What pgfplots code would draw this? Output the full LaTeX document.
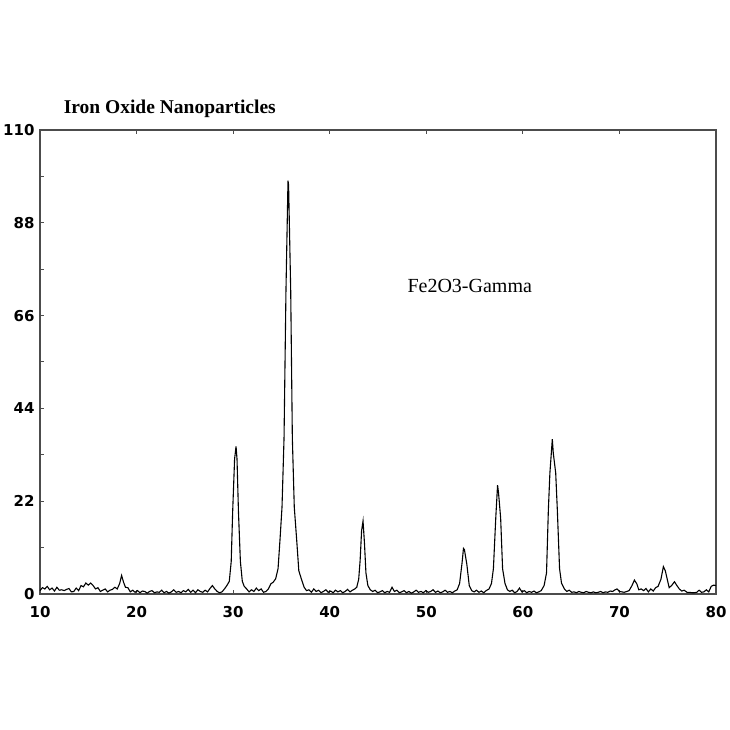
\documentclass[border=0pt]{standalone}
\usepackage{pgfplots}
\pgfplotsset{compat=1.18}
\usepackage{fontspec}
\setmainfont{Liberation Serif}
\newfontfamily\tickfont{DejaVu Sans}

% XRD pattern (2-theta, intensity)
\pgfplotstableread{
x y
10.0 0.8
10.25 1.5
10.5 1.2
10.75 1.8
11.0 1.0
11.25 1.4
11.5 0.7
11.75 1.6
12.0 0.9
12.25 1.0
12.5 0.8
12.75 1.1
13.0 1.3
13.25 0.5
13.5 0.6
13.75 1.4
14.0 0.8
14.25 2.0
14.5 1.7
14.75 2.6
15.0 2.1
15.25 2.6
15.5 2.0
15.75 1.2
16.0 1.5
16.25 0.6
16.5 0.9
16.75 1.2
17.0 0.5
17.25 0.9
17.5 1.1
17.75 1.6
18.0 1.2
18.25 2.5
18.45 4.4
18.65 2.8
18.85 1.6
19.1 1.5
19.35 0.5
19.6 0.9
19.85 0.4
20.1 0.8
20.35 0.3
20.6 0.7
20.85 0.6
21.1 0.2
21.35 0.6
21.6 0.8
21.85 0.3
22.1 0.5
22.35 0.4
22.6 0.9
22.85 0.3
23.1 0.6
23.35 0.2
23.6 0.5
23.85 1.0
24.1 0.4
24.35 0.6
24.6 0.3
24.85 0.8
25.1 0.5
25.35 1.1
25.6 0.4
25.85 0.9
26.1 0.3
26.35 1.0
26.6 0.6
26.85 0.4
27.1 0.9
27.35 0.5
27.6 1.3
27.85 2.0
28.1 1.2
28.35 0.6
28.6 0.3
28.85 0.5
29.1 1.2
29.35 2.0
29.6 3.0
29.8 7.7
29.95 19.5
30.15 32
30.3 35
30.4 32
30.55 19.5
30.75 7.7
30.95 3.0
31.15 1.8
31.4 1.2
31.65 0.5
31.9 1.0
32.15 0.6
32.4 1.4
32.65 0.8
32.9 1.2
33.15 0.4
33.4 0.6
33.65 1.2
33.9 2.4
34.15 2.8
34.4 3.6
34.65 6.0
34.85 12.8
35.06 20.6
35.27 37
35.47 72
35.68 98
35.74 97
35.96 72
36.13 37
36.33 20.6
36.58 12.8
36.8 5.5
37.1 3.3
37.35 1.6
37.6 0.8
37.85 1.0
38.1 0.4
38.35 1.2
38.6 0.6
38.85 0.9
39.1 0.3
39.35 0.6
39.6 1.0
39.85 0.4
40.1 0.7
40.35 0.3
40.6 0.9
40.85 0.5
41.1 0.8
41.35 0.3
41.6 0.6
41.85 1.1
42.1 0.5
42.35 0.9
42.6 1.2
42.8 1.6
43.0 3.5
43.15 8.0
43.3 15.0
43.45 17.3
43.6 12.0
43.75 5.0
43.95 2.0
44.2 1.0
44.45 0.6
44.7 0.9
44.95 0.3
45.2 0.5
45.45 0.8
45.7 0.3
45.95 0.6
46.2 0.4
46.45 1.6
46.7 0.6
46.95 0.9
47.2 0.3
47.45 0.5
47.7 0.8
47.95 0.3
48.2 0.6
48.45 0.2
48.7 0.5
48.95 0.9
49.2 0.4
49.45 0.6
49.7 0.3
49.95 0.8
50.2 0.4
50.45 0.6
50.7 1.0
50.95 0.4
51.2 0.7
51.45 0.3
51.7 0.5
51.95 0.9
52.2 0.4
52.45 0.6
52.7 0.3
52.95 0.7
53.2 1.0
53.45 2.5
53.7 7.3
53.85 10.8
53.95 10.5
54.2 7.0
54.45 2.0
54.7 0.8
54.95 0.5
55.2 0.9
55.45 0.4
55.7 0.7
55.95 0.3
56.2 0.8
56.5 1.2
56.75 2.5
56.95 6.0
57.2 18.3
57.38 25.8
57.48 24.0
57.7 18.0
57.9 6.0
58.15 2.5
58.4 1.0
58.65 0.6
58.9 0.9
59.15 0.3
59.4 0.6
59.65 1.4
59.9 0.5
60.15 0.8
60.4 0.3
60.65 0.6
60.9 0.4
61.15 0.7
61.4 0.3
61.65 0.5
61.9 0.8
62.2 2.0
62.45 5.0
62.64 19.9
62.8 28.7
63.05 36.7
63.15 33.4
63.4 28.7
63.57 19.9
63.8 6.0
64.0 2.6
64.3 1.2
64.55 0.6
64.8 0.9
65.05 0.4
65.3 0.5
65.55 0.3
65.8 0.6
66.05 0.4
66.3 0.3
66.55 0.6
66.8 0.4
67.05 0.3
67.3 0.5
67.55 0.3
67.8 0.4
68.05 0.6
68.3 0.3
68.55 0.5
68.8 0.4
69.05 0.7
69.3 0.6
69.55 1.0
69.75 1.2
70.0 0.6
70.25 0.5
70.5 0.4
70.75 0.6
71.0 0.8
71.3 2.0
71.55 3.3
71.8 2.4
72.0 1.0
72.25 1.2
72.5 0.8
72.75 1.3
73.0 0.5
73.25 1.2
73.5 0.7
73.75 1.5
74.0 1.8
74.3 3.5
74.55 6.5
74.75 5.5
74.95 3.5
75.15 1.5
75.4 2.0
75.7 2.9
75.95 2.0
76.2 1.2
76.45 0.7
76.7 0.9
77.0 0.4
77.25 0.4
77.5 0.3
77.75 0.3
78.0 0.4
78.25 0.9
78.5 0.4
78.75 0.5
79.0 1.0
79.25 0.5
79.5 1.8
79.75 2.1
80.0 2.0
}\xrd

\begin{document}
\begin{tikzpicture}
\useasboundingbox (0,0) rectangle (730pt,730pt);
\begin{axis}[
  at={(40pt,136pt)}, anchor=south west,
  width=676pt, height=464pt, scale only axis,
  xmin=10, xmax=80, ymin=0, ymax=110,
  xtick={10,20,...,80},
  ytick={0,22,44,66,88,110},
  minor y tick num=1,
  xtick pos=both, ytick pos=left,
  tick align=inside,
  major tick length=4pt, minor tick length=4pt,
  axis line style={black!70, line width=1.5pt},
  every tick/.style={black!70, line width=1pt},
  /pgf/number format/assume math mode=true,
  ticklabel style={font=\tickfont\bfseries\fontsize{15}{16}\selectfont},
  yticklabel style={xshift=-2pt},
  xticklabel style={yshift=-9pt},
  clip=false,
]
\addplot[black, line width=1.1pt, sharp plot] table[x=x, y=y] {\xrd};
\node[font=\bfseries\fontsize{19.5}{21}\selectfont, anchor=base]
  at (rel axis cs:0.192,1) [yshift=16pt] {Iron Oxide Nanoparticles};
\node[font=\fontsize{20}{22}\selectfont, anchor=center]
  at (axis cs:54.5,73) {Fe2O3-Gamma};
\end{axis}
\end{tikzpicture}
\end{document}
